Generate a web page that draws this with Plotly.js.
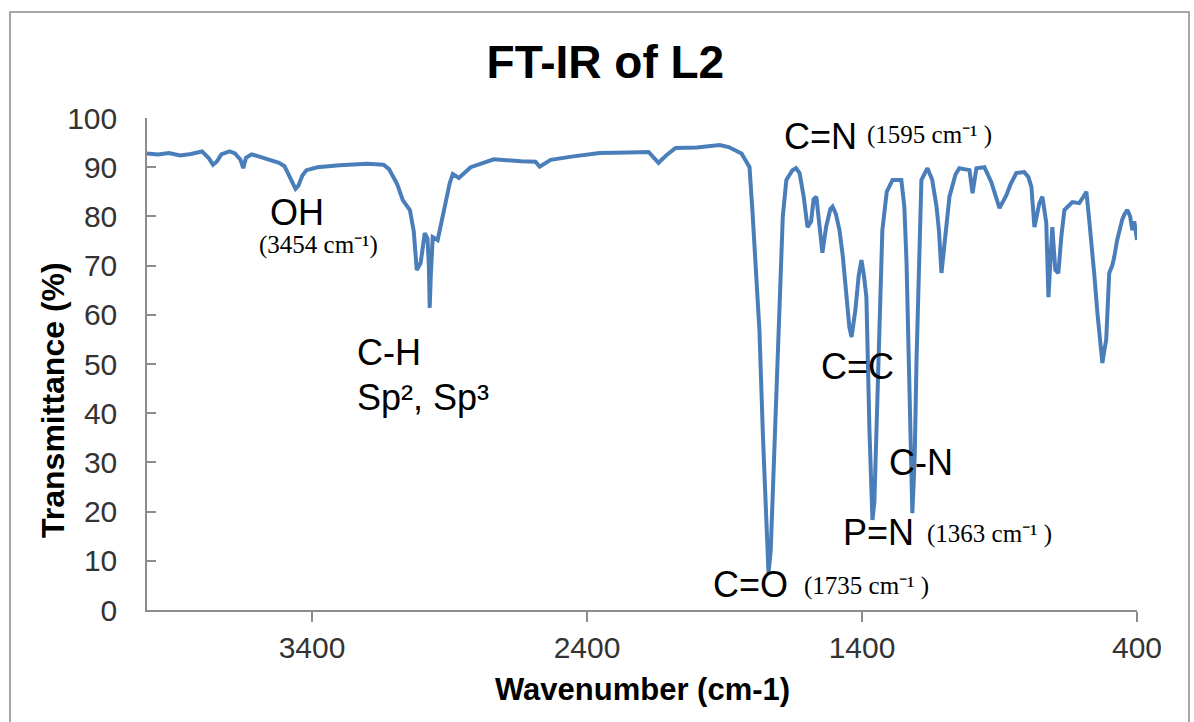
<!DOCTYPE html>
<html>
<head>
<meta charset="utf-8">
<script src="https://cdn.plot.ly/plotly-3.0.1.min.js"></script>
<style>
  html, body { margin: 0; padding: 0; background: #ffffff; }
  #chart { width: 1194px; height: 722px; }
</style>
</head>
<body>
<div id="chart"></div>
<script>
// Wavenumber (cm-1)
var wavenumber = [
  4000, 3960, 3920, 3880, 3840, 3800, 3775, 3760, 3745, 3730, 3700, 3680, 3660, 3650, 3640,
  3620, 3600, 3580, 3560, 3540, 3520, 3500, 3485, 3470, 3460, 3450, 3435, 3420, 3380, 3300,
  3200, 3140, 3120, 3090, 3070, 3044, 3030, 3019, 3005, 2990, 2980, 2975, 2972, 2968, 2961,
  2943, 2920, 2899, 2888, 2866, 2823, 2739, 2640, 2587, 2572, 2532, 2450, 2354, 2250, 2176,
  2140, 2110, 2078, 2000, 1918, 1885, 1838, 1809, 1798, 1785, 1773, 1760, 1748, 1740, 1732,
  1725, 1712, 1700, 1688, 1675, 1653, 1640, 1627, 1612, 1598, 1585, 1576, 1566, 1556, 1544,
  1530, 1515, 1507, 1495, 1482, 1470, 1456, 1446, 1438, 1430, 1424, 1412, 1402, 1393, 1384,
  1373, 1362, 1355, 1347, 1336, 1326, 1310, 1289, 1257, 1246, 1238, 1230, 1224, 1220, 1217,
  1212, 1208, 1202, 1192, 1184, 1162, 1145, 1129, 1120, 1111, 1100, 1082, 1060, 1046, 1009,
  998, 984, 955, 930, 900, 875, 860, 839, 810, 795, 784, 773, 765, 755, 744,
  730, 722, 715, 708, 697, 686, 675, 664, 635, 610, 595, 584, 575, 566, 555,
  544, 535, 526, 518, 512, 501, 490, 483, 472, 454, 445, 435, 425, 417, 410,
  400
];
// Transmittance (%)
var transmittance = [
  92.8, 92.6, 92.9, 92.4, 92.7, 93.2, 91.8, 90.5, 91.2, 92.6, 93.2, 92.8, 91.5, 89.8, 91.9,
  92.6, 92.3, 91.9, 91.7, 91.3, 90.9, 90.2, 88.5, 86.5, 85.6, 86.2, 88.3, 89.4, 90.0, 90.4,
  90.7, 90.5, 89.6, 86.5, 83.3, 81.3, 77.0, 69.1, 70.5, 76.6, 75.5, 70.0, 61.4, 68.0, 75.8,
  75.2, 81.0, 86.8, 88.6, 87.8, 90.0, 91.6, 91.2, 91.1, 90.1, 91.5, 92.2, 92.9, 93.0, 93.1,
  90.9, 92.5, 93.9, 94.0, 94.5, 94.1, 92.8, 90.0, 80.7, 68.0, 56.9, 35.0, 15.0, 7.5, 12.0,
  23.0, 45.0, 63.6, 80.0, 87.4, 89.4, 89.8, 88.8, 84.0, 77.8, 79.0, 83.5, 84.0, 79.0, 72.6,
  78.0, 81.5, 82.0, 80.5, 77.2, 72.0, 63.6, 57.5, 55.5, 58.0, 61.0, 68.0, 71.1, 68.0, 63.6,
  36.6, 18.3, 22.0, 36.6, 60.0, 77.2, 85.0, 87.4, 87.4, 82.0, 70.5, 50.0, 33.1, 25.0, 19.7,
  26.0, 32.0, 50.2, 75.0, 87.4, 89.8, 87.5, 82.0, 77.0, 68.5, 75.0, 84.0, 88.5, 89.8, 89.4,
  84.7, 89.8, 90.0, 87.0, 81.7, 84.3, 86.5, 88.8, 89.0, 88.0, 86.0, 77.8, 80.0, 82.7, 84.0,
  78.7, 63.6, 70.0, 77.8, 69.1, 68.5, 76.0, 81.3, 82.9, 82.7, 84.0, 85.0, 80.0, 75.2, 68.0,
  60.4, 55.0, 50.2, 53.0, 54.9, 68.5, 70.0, 71.7, 75.2, 79.3, 80.5, 81.3, 80.0, 77.2, 79.0,
  75.2
];
var xTickValues = [3400, 2400, 1400, 400];
var xTickLabels = ['3400', '2400', '1400', '400'];
var yTickValues = [0, 10, 20, 30, 40, 50, 60, 70, 80, 90, 100];

var chartTitle = 'FT-IR of L2';
var xTitle = 'Wavenumber (cm-1)';
var yTitle = 'Transmittance (%)';

var sans = 'Liberation Sans, Arial, sans-serif';
var serif = 'Liberation Serif, Times New Roman, serif';

function label(text, x, y, size, family, anchor) {
  return {
    text: text, x: x, y: y, xref: 'paper', yref: 'paper', showarrow: false,
    xanchor: anchor || 'center', yanchor: 'middle',
    font: { family: family, size: size, color: '#000000' }
  };
}

var trace = {
  x: wavenumber,
  y: transmittance,
  type: 'scatter',
  mode: 'lines',
  name: 'L2',
  line: { color: '#4A7EBB', width: 4 },
  hoverinfo: 'x+y'
};

var axisGray = '#8c8c8c';

var layout = {
  width: 1194,
  height: 722,
  margin: { l: 147, r: 57, t: 118, b: 112 },
  paper_bgcolor: '#ffffff',
  plot_bgcolor: '#ffffff',
  showlegend: false,
  title: {
    text: '<b>' + chartTitle + '</b>',
    x: 0.507, xref: 'container', xanchor: 'center',
    y: 0.914, yref: 'container', yanchor: 'middle',
    font: { family: sans, size: 46, color: '#000000' }
  },
  xaxis: {
    range: [4000, 400],
    tickmode: 'array',
    tickvals: xTickValues,
    ticktext: xTickLabels,
    ticks: 'outside',
    ticklen: 10,
    tickwidth: 1.5,
    tickcolor: axisGray,
    showline: true,
    linecolor: axisGray,
    linewidth: 1.5,
    showgrid: false,
    zeroline: false,
    tickfont: { family: sans, size: 30, color: '#333333' }
  },
  yaxis: {
    range: [0, 100],
    tickmode: 'array',
    tickvals: yTickValues,
    ticks: 'inside',
    ticklen: 9,
    tickwidth: 1.5,
    tickcolor: axisGray,
    ticklabelstandoff: 22,
    showline: true,
    linecolor: axisGray,
    linewidth: 1.5,
    showgrid: false,
    zeroline: false,
    tickfont: { family: sans, size: 30, color: '#333333' }
  },
  shapes: [{
    type: 'rect', xref: 'paper', yref: 'paper',
    x0: -0.1384, x1: 1.0525, y0: -0.26, y1: 1.2154,
    line: { color: '#a6a6a6', width: 2 },
    fillcolor: 'rgba(0,0,0,0)',
    layer: 'below'
  }],
  annotations: [
    {
      text: '<b>' + xTitle + '</b>', xref: 'paper', yref: 'paper',
      x: 0.5, y: -0.1626, xanchor: 'center', yanchor: 'middle', showarrow: false,
      font: { family: sans, size: 31, color: '#000000' }
    },
    {
      text: '<b>' + yTitle + '</b>', xref: 'paper', yref: 'paper',
      x: -0.095, y: 0.4268, xanchor: 'center', yanchor: 'middle', showarrow: false,
      textangle: -90,
      font: { family: sans, size: 32, color: '#000000' }
    },
    label('OH', 0.1515, 0.8089, 36, sans),
    label('(3454 cm\u207B\u00B9)', 0.1737, 0.7419, 25, serif),
    label('C-H', 0.2101, 0.5224, 36, sans, 'left'),
    label('Sp\u00B2, Sp\u00B3', 0.2101, 0.4309, 36, sans, 'left'),
    label('C=N', 0.6808, 0.9614, 36, sans),
    label('(1595 cm\u207B\u00B9 )', 0.7899, 0.9654, 25, serif),
    label('C=C', 0.7172, 0.4959, 36, sans),
    label('C-N', 0.7818, 0.3008, 36, sans),
    label('P=N', 0.7384, 0.1585, 36, sans),
    label('(1363 cm\u207B\u00B9 )', 0.8515, 0.1545, 25, serif),
    label('C=O', 0.6101, 0.0528, 36, sans),
    label('(1735 cm\u207B\u00B9 )', 0.7263, 0.0488, 25, serif)
  ]
};

Plotly.newPlot('chart', [trace], layout, { displayModeBar: false });
</script>
</body>
</html>
